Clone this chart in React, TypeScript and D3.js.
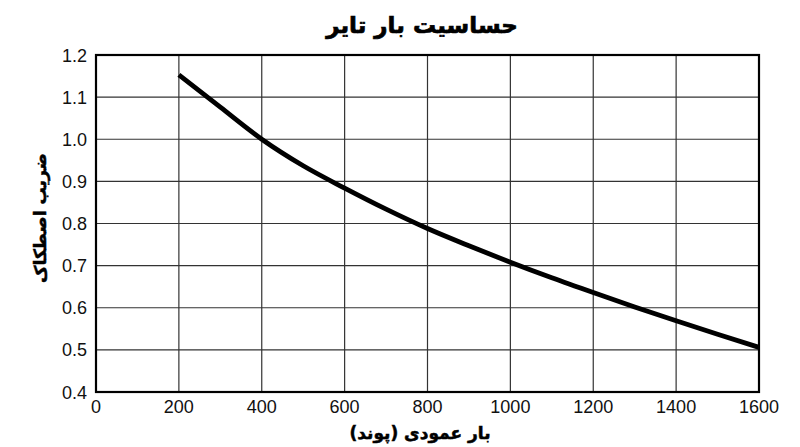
import React from "react";
import * as d3 from "d3";

const loads = [200, 300, 400, 500, 600, 700, 800, 900, 1000, 1100, 1200, 1300, 1400, 1500, 1600];
const friction = [1.153, 1.076, 1.0, 0.937, 0.884, 0.834, 0.788, 0.747, 0.708, 0.671, 0.636, 0.602, 0.569, 0.537, 0.506];
const xTicks = [0, 200, 400, 600, 800, 1000, 1200, 1400, 1600];
const yTicks = [0.4, 0.5, 0.6, 0.7, 0.8, 0.9, 1.0, 1.1, 1.2];
const title = "حساسیت بار تایر";
const xLabel = "بار عمودی (پوند)";
const yLabel = "ضریب اصطکاک";

export default function App() {
  const W = 800, H = 447;
  const m = { left: 96, right: 759, top: 55, bottom: 392 };
  const x = d3.scaleLinear().domain([0, 1600]).range([m.left, m.right]);
  const y = d3.scaleLinear().domain([0.4, 1.2]).range([m.bottom, m.top]);
  const line = d3
    .line<number>()
    .x((_, i) => x(loads[i]))
    .y((d) => y(d))
    .curve(d3.curveMonotoneX);
  const persian = "'DejaVu Sans', sans-serif";
  const num = "'Liberation Sans', Arial, sans-serif";
  return (
    <svg width={W} height={H} style={{ position: "absolute", left: 0, top: 0, background: "#fff" }}>
      <rect x={0} y={0} width={W} height={H} fill="#fff" />
      {xTicks.slice(1, -1).map((t) => (
        <line key={"gx" + t} x1={x(t)} x2={x(t)} y1={m.top} y2={m.bottom} stroke="#333" strokeWidth={1.2} />
      ))}
      {yTicks.slice(1, -1).map((t) => (
        <line key={"gy" + t} x1={m.left} x2={m.right} y1={y(t)} y2={y(t)} stroke="#333" strokeWidth={1.2} />
      ))}
      <rect x={m.left} y={m.top} width={m.right - m.left} height={m.bottom - m.top} fill="none" stroke="#000" strokeWidth={2.2} />
      <path d={line(friction) || ""} fill="none" stroke="#000" strokeWidth={4.8} />
      {xTicks.map((t) => (
        <text key={"tx" + t} x={x(t)} y={413} textAnchor="middle" fontFamily={num} fontSize={18} fill="#111">
          {t}
        </text>
      ))}
      {yTicks.map((t) => (
        <text key={"ty" + t} x={87} y={y(t) + 6.5} textAnchor="end" fontFamily={num} fontSize={18} fill="#111">
          {t.toFixed(1)}
        </text>
      ))}
      <text x={422} y={33} textAnchor="middle" fontFamily={persian} fontWeight="bold" fontSize={23} fill="#000" stroke="#000" strokeWidth={0.7} direction="rtl">
        {title}
      </text>
      <text x={420} y={439} textAnchor="middle" fontFamily={persian} fontWeight="bold" fontSize={17} fill="#000" stroke="#000" strokeWidth={0.5} direction="rtl">
        {xLabel}
      </text>
      <text
        transform={`translate(46, 218) rotate(-90)`}
        textAnchor="middle"
        fontFamily={persian}
        fontWeight="bold"
        fontSize={17}
        fill="#000"
        stroke="#000"
        strokeWidth={0.5}
        direction="rtl"
      >
        {yLabel}
      </text>
    </svg>
  );
}
